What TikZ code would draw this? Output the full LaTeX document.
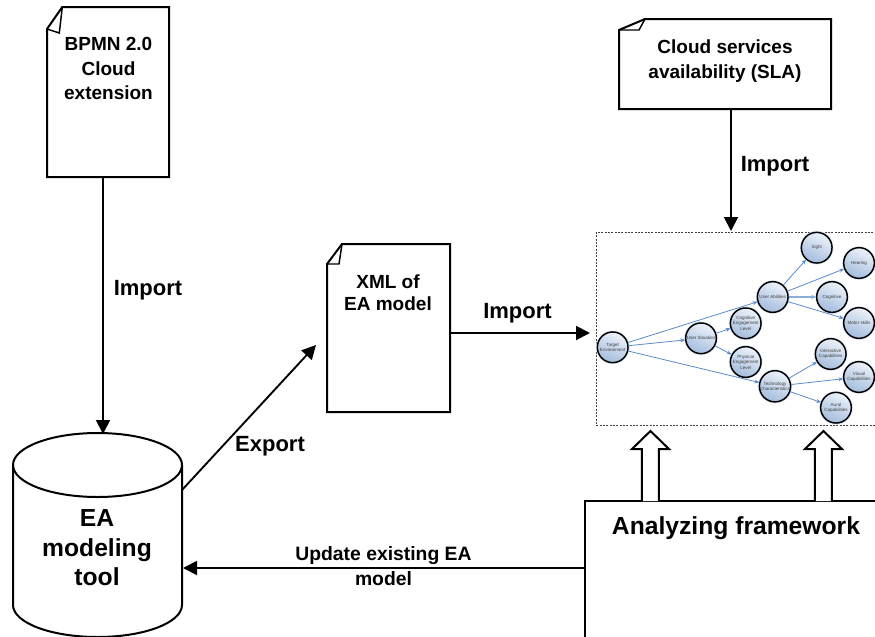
\documentclass[tikz,border=0pt]{standalone}
\usepackage{fontspec}
\setmainfont{Liberation Sans}
\usetikzlibrary{arrows.meta,shadings}
\definecolor{edgeblue}{HTML}{5B8BCB}
\definecolor{ballhi}{HTML}{EDF2F9}
\definecolor{balllo}{HTML}{A3BCDD}
\definecolor{halo}{HTML}{DCE6F2}
\definecolor{balltext}{HTML}{404040}
\tikzset{
  x=0.75pt,y=-0.75pt,
  outline/.style={draw=black,line width=1.5pt,line join=miter,fill=white},
  boxarea/.style={inner sep=0pt,outer sep=0pt,draw=none},
  txtbody/.style={font=\bfseries\fontsize{14.25}{17}\selectfont,align=center,inner sep=0pt,text=black},
  txtlabel/.style={font=\bfseries\fontsize{16.5}{20}\selectfont,align=center,inner sep=0pt,text=black},
  txtbig/.style={font=\bfseries\fontsize{18.5}{22.5}\selectfont,align=center,inner sep=0pt,text=black},
  txtsmall/.style={font=\bfseries\fontsize{14.5}{18.7}\selectfont,align=center,inner sep=0pt,text=black},
  conn/.style={draw=black,line width=1.4pt,-{Triangle[length=10.5pt,width=10.5pt]}},
  ball/.style={circle,minimum size=23pt,inner sep=0pt,outer sep=0.5pt,draw=black,line width=1.1pt,
    top color=ballhi,bottom color=balllo,shading angle=-25,
    font=\fontsize{3.4}{4.2}\selectfont,align=center,text=balltext,
    preaction={draw=halo,line width=2.2pt,shift={(0.6pt,0.6pt)}}},
  thin link/.style={draw=edgeblue,line width=0.6pt,-{Stealth[length=3.6pt,width=3pt]}},
  thick link/.style={draw=edgeblue!70,line width=1.5pt,-{Stealth[length=3.6pt,width=3.6pt]}},
}
\newcommand{\docpath}[8]{% left top right bottom notchx notchy innerx innery
  \draw[outline] (#5,#2) -- (#3,#2) -- (#3,#4) -- (#1,#4) -- (#1,#6) -- cycle;
  \draw[draw=black,line width=1.1pt,line join=miter] (#5,#2) -- (#7,#8) -- (#1,#6);
}
\begin{document}
\begin{tikzpicture}
\useasboundingbox (0,0) rectangle (875,636);
\clip (0,0) rectangle (875,636);
\fill[white] (0,0) rectangle (875,636);

% named areas
\node[boxarea,minimum width=92.25pt,minimum height=127.5pt] (doc1) at (108,92) {};

% documents
\docpath{47}{7}{169}{177}{62.3}{29}{59.3}{33}
\docpath{619}{19}{831}{109}{645}{30}{639}{30}
\docpath{327}{244}{450}{412}{342}{264}{339}{264}
\node[txtbody] at (108.5,68.5) {BPMN 2.0\\[1.2pt]Cloud\\[1.2pt]extension};
\node[txtbody] at (725,61) {Cloud services\\[1.2pt]availability (SLA)};
\node[txtbody] at (388,293) {XML of\\[-0.6pt]EA model};

% cylinder
\draw[outline] (13,465) -- (13,605) arc[start angle=180,end angle=0,x radius=84.5,y radius=32]
  -- (182,465) arc[start angle=0,end angle=-180,x radius=84.5,y radius=32] -- cycle;
\draw[outline,fill=none] (13,465) arc[start angle=180,end angle=0,x radius=84.5,y radius=32];
\node[txtbig] at (97,548) {EA\\[-0.3pt]modeling\\[-0.3pt]tool};

% dashed frame around the embedded graph
\draw[dash pattern=on 1.5pt off 1pt,draw=black!75,line width=0.55pt] (596,232) rectangle (875,425);

% embedded graph
\node[ball] (te) at (612.7,347.3) {Target\\Environment};
\node[ball] (us) at (701,338.3) {User Situation};
\node[ball] (ce) at (745.7,323.3) {Cognitive\\Engagement\\Level};
\node[ball] (pe) at (745.7,362) {Physical\\Engagement\\Level};
\node[ball] (ua) at (772.7,297) {User Abilities};
\node[ball] (tc) at (775,386.3) {Technology\\Characteristics};
\node[ball] (si) at (816.7,247.7) {Sight};
\node[ball] (he) at (859,263) {Hearing};
\node[ball] (co) at (832,297) {Cognitive};
\node[ball] (mo) at (859,323) {Motor skills};
\node[ball] (ic) at (830.7,354) {Interactive\\Capabilities};
\node[ball] (vc) at (859,377) {Visual\\Capabilities};
\node[ball] (ac) at (836,407.7) {Aural\\Capabilities};
\draw[thin link] (te) -- (ua);
\draw[thin link] (te) -- (us);
\draw[thin link] (te) -- (tc);
\draw[thin link] (us) -- (ce);
\draw[thin link] (us) -- (pe);
\draw[thin link] (ua) -- (si);
\draw[thin link] (ua) -- (he);
\draw[thick link] (ua) -- (co);
\draw[thin link] (ua) -- (mo);
\draw[thin link] (tc) -- (ic);
\draw[thin link] (tc) -- (vc);
\draw[thin link] (tc) -- (ac);

% analysing framework and its block arrows
\draw[outline] (585,640) -- (585,501) -- (880,501);
\node[txtbig] at (736,528) {Analyzing framework};
\coordinate (b1) at (650.5,501);
\coordinate (b2) at (823.5,501);
\foreach \c in {b1,b2}{
  \draw[outline] ([xshift=-6.4pt]\c) -- ++(0,-52) -- ++(-10,0) -- ++(18.5,-18) -- ++(18.5,18) -- ++(-10,0) -- ++(0,52);
}

% connectors
\coordinate (c1top) at (103,434);
\coordinate (e3) at (316,345);
\coordinate (e4) at (182,490);
\coordinate (i3a) at (450,333);
\coordinate (i3b) at (590,333);
\coordinate (i2a) at (731,109);
\coordinate (i2b) at (731,231);
\coordinate (u1) at (585,568);
\coordinate (u2) at (183,568);
\draw[conn] (doc1.south -| c1top) -- (c1top);
\draw[conn] (e4) -- (e3);
\draw[conn] (i3a) -- (i3b);
\draw[conn] (i2a) -- (i2b);
\draw[conn] (u1) -- (u2);

% labels
\node[txtlabel] at (148,290) {Import};
\node[txtlabel] at (775,166) {Import};
\node[txtlabel] at (517.5,313) {Import};
\node[txtlabel] at (270,446) {Export};
\node[txtsmall] at (383.5,566.5) {Update existing EA\\model};
\end{tikzpicture}
\end{document}
